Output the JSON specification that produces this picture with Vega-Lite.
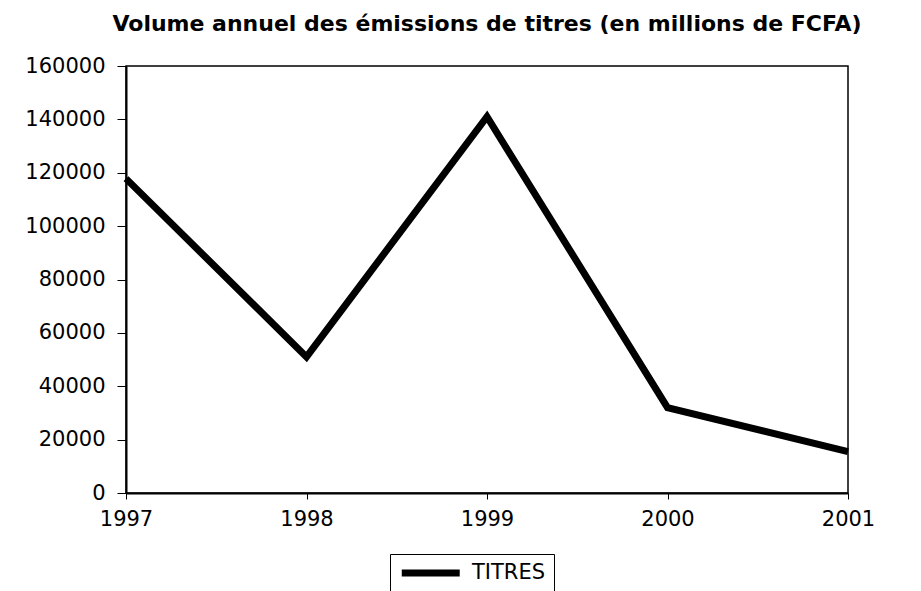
{
  "$schema": "https://vega.github.io/schema/vega-lite/v6.json",
  "width": 722,
  "height": 427,
  "autosize": "none",
  "padding": {"left": 126, "top": 66, "right": 73, "bottom": 98},
  "background": "white",
  "title": {
    "text": "Volume annuel des émissions de titres (en millions de FCFA)",
    "font": "DejaVu Sans",
    "fontSize": 22,
    "fontWeight": "bold",
    "color": "black",
    "anchor": "middle",
    "offset": 19
  },
  "data": {
    "values": [
      {"year": 1997, "value": 117800, "series": "TITRES"},
      {"year": 1998, "value": 51000, "series": "TITRES"},
      {"year": 1999, "value": 141000, "series": "TITRES"},
      {"year": 2000, "value": 32000, "series": "TITRES"},
      {"year": 2001, "value": 15500, "series": "TITRES"}
    ]
  },
  "mark": {"type": "line", "strokeWidth": 7, "strokeJoin": "miter", "strokeCap": "butt"},
  "encoding": {
    "x": {
      "field": "year",
      "type": "quantitative",
      "scale": {"domain": [1997, 2001], "nice": false, "zero": false},
      "axis": {
        "title": null,
        "values": [1997, 1998, 1999, 2000, 2001],
        "format": "d",
        "grid": false,
        "domainColor": "black",
        "domainWidth": 2,
        "tickColor": "black",
        "tickSize": 6,
        "labelPadding": 9,
        "labelFont": "DejaVu Sans",
        "labelFontSize": 21,
        "labelColor": "black",
        "labelOverlap": false,
        "labelFlush": false
      }
    },
    "y": {
      "field": "value",
      "type": "quantitative",
      "scale": {"domain": [0, 160000], "nice": false},
      "axis": {
        "title": null,
        "values": [0, 20000, 40000, 60000, 80000, 100000, 120000, 140000, 160000],
        "format": "d",
        "grid": false,
        "domainColor": "black",
        "domainWidth": 2,
        "tickColor": "black",
        "tickSize": 9,
        "labelPadding": 12,
        "labelFont": "DejaVu Sans",
        "labelFontSize": 21,
        "labelColor": "black",
        "labelOverlap": false,
        "labelFlush": false
      }
    },
    "color": {
      "field": "series",
      "type": "nominal",
      "scale": {"range": ["black"]},
      "legend": {
        "title": null,
        "orient": "none",
        "legendX": 264,
        "legendY": 488,
        "strokeColor": "black",
        "padding": 8,
        "symbolType": "M-1,0H7",
        "symbolSize": 210,
        "symbolStrokeWidth": 7,
        "symbolFillColor": "transparent",
        "labelFont": "DejaVu Sans",
        "labelFontSize": 21,
        "labelColor": "black",
        "labelOffset": 52
      }
    }
  },
  "config": {
    "view": {"stroke": "black", "strokeWidth": 1.5}
  }
}
